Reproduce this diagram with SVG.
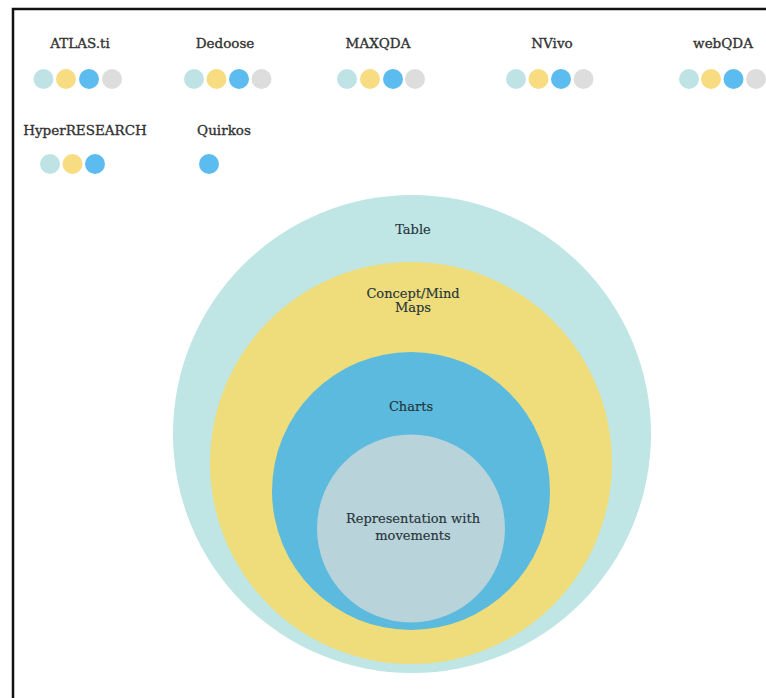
<svg xmlns="http://www.w3.org/2000/svg" width="766" height="698" viewBox="0 0 766 698">
  <style>
    .lbl { font-family: "DejaVu Serif", "Liberation Serif", serif; font-size: 13.5px; fill: #333333; stroke: #333333; stroke-width: 0.35px; text-anchor: middle; }
    .ring { font-family: "DejaVu Serif", "Liberation Serif", serif; font-size: 13px; fill: #26343a; stroke: #26343a; stroke-width: 0.15px; text-anchor: middle; }
    .d1 { fill: #bfe3e5; }
    .d2 { fill: #f8dc82; }
    .d3 { fill: #5cbcef; }
    .d4 { fill: #dddddd; }
  </style>
  <rect width="766" height="698" fill="#ffffff"/>
  <!-- frame -->
  <path d="M13 698 V9 H766" fill="none" stroke="#111111" stroke-width="2.5"/>

  <!-- software legend -->
  <g id="atlas">
    <text class="lbl" x="80" y="48">ATLAS.ti</text>
    <circle class="d1" cx="43.5" cy="79" r="10"/><circle class="d2" cx="66" cy="79" r="10"/><circle class="d3" cx="89" cy="79" r="10"/><circle class="d4" cx="112" cy="79" r="10"/>
  </g>
  <g id="dedoose">
    <text class="lbl" x="225" y="48">Dedoose</text>
    <circle class="d1" cx="194" cy="79" r="10"/><circle class="d2" cx="216.5" cy="79" r="10"/><circle class="d3" cx="239" cy="79" r="10"/><circle class="d4" cx="261.5" cy="79" r="10"/>
  </g>
  <g id="maxqda">
    <text class="lbl" x="378" y="48">MAXQDA</text>
    <circle class="d1" cx="347" cy="79" r="10"/><circle class="d2" cx="370" cy="79" r="10"/><circle class="d3" cx="393" cy="79" r="10"/><circle class="d4" cx="415" cy="79" r="10"/>
  </g>
  <g id="nvivo">
    <text class="lbl" x="552" y="48">NVivo</text>
    <circle class="d1" cx="516" cy="79" r="10"/><circle class="d2" cx="538.5" cy="79" r="10"/><circle class="d3" cx="561" cy="79" r="10"/><circle class="d4" cx="583.5" cy="79" r="10"/>
  </g>
  <g id="webqda">
    <text class="lbl" x="723" y="48">webQDA</text>
    <circle class="d1" cx="689" cy="79" r="10"/><circle class="d2" cx="711" cy="79" r="10"/><circle class="d3" cx="733.5" cy="79" r="10"/><circle class="d4" cx="756" cy="79" r="10"/>
  </g>
  <g id="hyperresearch">
    <text class="lbl" x="85" y="135">HyperRESEARCH</text>
    <circle class="d1" cx="50" cy="164" r="10"/><circle class="d2" cx="72.5" cy="164" r="10"/><circle class="d3" cx="95" cy="164" r="10"/>
  </g>
  <g id="quirkos">
    <text class="lbl" x="224" y="135">Quirkos</text>
    <circle class="d3" cx="209" cy="164" r="10"/>
  </g>

  <!-- nested representation types -->
  <g id="table">
    <circle cx="412" cy="434" r="239" fill="#bfe5e5"/>
    <text class="ring" x="413" y="234">Table</text>
  </g>
  <g id="maps">
    <circle cx="411" cy="463" r="201" fill="#eedd7a"/>
    <text class="ring" x="413" y="298">Concept/Mind</text>
    <text class="ring" x="413" y="312">Maps</text>
  </g>
  <g id="charts">
    <circle cx="411" cy="491" r="139" fill="#5bbadd"/>
    <text class="ring" x="411" y="411">Charts</text>
  </g>
  <g id="movements">
    <circle cx="411" cy="528.5" r="94" fill="#b9d3db"/>
    <text class="ring" x="413" y="523">Representation with</text>
    <text class="ring" x="413" y="540">movements</text>
  </g>
</svg>
